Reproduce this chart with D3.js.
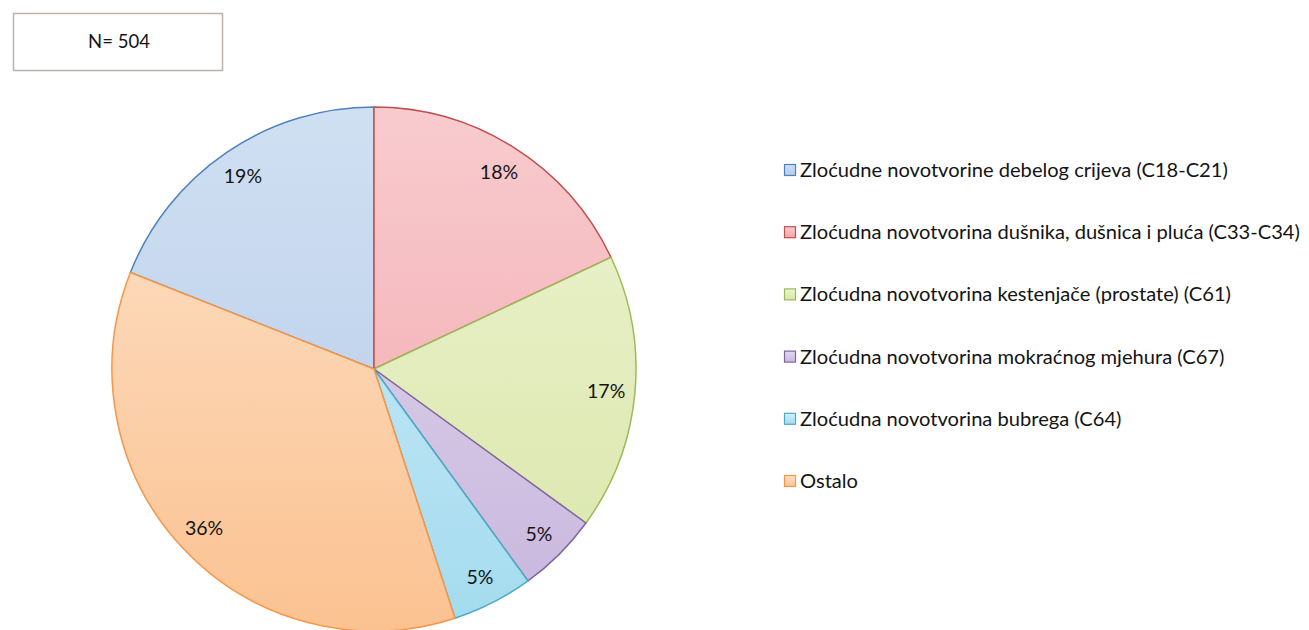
<!DOCTYPE html>
<html><head><meta charset="utf-8">
<script src="https://cdn.jsdelivr.net/npm/d3@7"></script>
<style>body{margin:0;background:#fff;} svg{display:block;}</style>
</head><body>
<svg id="chart" width="1309" height="630"></svg>
<script>
const categories = [
  "Zloćudne novotvorine debelog crijeva (C18-C21)",
  "Zloćudna novotvorina dušnika, dušnica i pluća (C33-C34)",
  "Zloćudna novotvorina kestenjače (prostate) (C61)",
  "Zloćudna novotvorina mokraćnog mjehura (C67)",
  "Zloćudna novotvorina bubrega (C64)",
  "Ostalo"
];
const values = [19, 18, 17, 5, 5, 36];
const sampleLabel = "N= 504";

const strokeColors = ["#4f81bd", "#c0504d", "#9bbb59", "#8064a2", "#4bacc6", "#f79646"];
const fillLight = ["#d0e0f3", "#f8cbce", "#edf3d0", "#e3d9ee", "#d0eef9", "#fde2ca"];
const fillDark  = ["#b4cae6", "#f2a6ac", "#d9e6aa", "#c8b6dd", "#a4dbef", "#fbc291"];

const svg = d3.select("#chart");
const font = "Lato, 'Open Sans', sans-serif";
const textColor = "#141414";

const defs = svg.append("defs");
categories.forEach((c, i) => {
  const g = defs.append("linearGradient").attr("id", "g" + i)
    .attr("gradientUnits", "userSpaceOnUse")
    .attr("x1", 0).attr("y1", -262).attr("x2", 0).attr("y2", 262);
  g.append("stop").attr("offset", "0%").attr("stop-color", fillLight[i]);
  g.append("stop").attr("offset", "100%").attr("stop-color", fillDark[i]);
  const gg = defs.append("linearGradient").attr("id", "lg" + i)
    .attr("x1", 0).attr("y1", 0).attr("x2", 0).attr("y2", 1);
  gg.append("stop").attr("offset", "0%").attr("stop-color", fillLight[i]);
  gg.append("stop").attr("offset", "100%").attr("stop-color", fillDark[i]);
});

// N box
svg.append("rect").attr("x", 13.5).attr("y", 13.5).attr("width", 209).attr("height", 57)
  .attr("fill", "#fff").attr("stroke", "#bcb3ae").attr("stroke-width", 1.5);
svg.append("text").attr("x", 119).attr("y", 42).attr("dy", "0.35em")
  .attr("text-anchor", "middle").attr("font-family", font).attr("font-size", 18.5)
  .attr("fill", textColor).text(sampleLabel);

// Pie
const cx = 374, cy = 369, R = 262;
const total = d3.sum(values);
const start = -values[0] / total * 2 * Math.PI;
const pie = d3.pie().sort(null).value(d => d)
  .startAngle(start).endAngle(start + 2 * Math.PI);
const arcs = pie(values);
const arc = d3.arc().innerRadius(0).outerRadius(R);
const labelArc = d3.arc().innerRadius(R * 0.89).outerRadius(R * 0.89);

const g = svg.append("g").attr("transform", `translate(${cx},${cy})`);
g.selectAll("path.slice").data(arcs).enter().append("path")
  .attr("class", "slice")
  .attr("d", arc)
  .attr("fill", (d, i) => `url(#g${i})`)
  .attr("stroke", (d, i) => strokeColors[i])
  .attr("stroke-width", 1.5)
  .attr("stroke-linejoin", "round");

g.selectAll("text.lbl").data(arcs).enter().append("text")
  .attr("class", "lbl")
  .attr("transform", d => `translate(${labelArc.centroid(d)})`)
  .attr("text-anchor", "middle").attr("dy", "0.35em")
  .attr("font-family", font).attr("font-size", 19.5).attr("fill", textColor)
  .text(d => Math.round(d.data / total * 100) + "%");

// Legend
const legendY = d3.scalePoint().domain(d3.range(categories.length)).range([170, 481]);
const rows = svg.append("g").selectAll("g.row").data(categories).enter().append("g")
  .attr("class", "row")
  .attr("transform", (d, i) => `translate(784,${legendY(i)})`);
rows.append("rect").attr("x", 0.5).attr("y", -5.5).attr("width", 11).attr("height", 11)
  .attr("fill", (d, i) => `url(#lg${i})`)
  .attr("stroke", (d, i) => strokeColors[i]).attr("stroke-width", 1.2);
const texts = rows.append("text").attr("x", 16).attr("dy", "0.35em")
  .attr("font-family", font).attr("font-size", 17).attr("fill", textColor)
  .text(d => d);
// fit font size so first entry spans the same width as in the reference (~428px)
const w0 = texts.node().getComputedTextLength();
const fs = Math.max(14, Math.min(22, 17 * 428 / w0));
texts.attr("font-size", fs);
</script>
</body></html>
